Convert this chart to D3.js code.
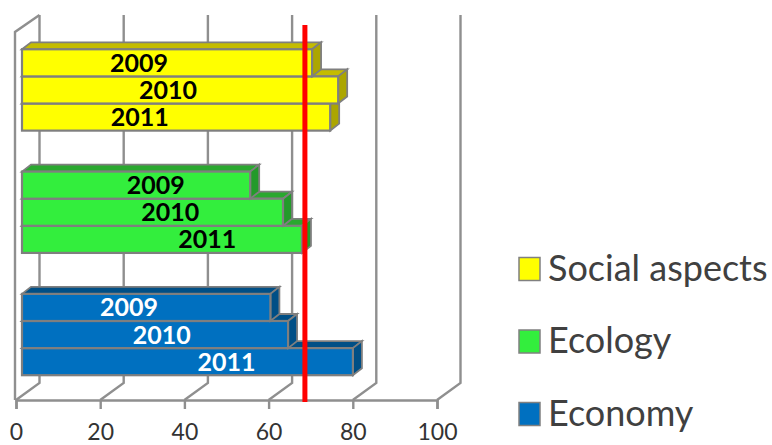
<!DOCTYPE html>
<html>
<head>
<meta charset="utf-8">
<script src="https://cdn.jsdelivr.net/npm/d3@7/dist/d3.min.js"></script>
<style>
  html, body { margin: 0; padding: 0; background: #fff; }
  svg { display: block; font-family: Lato, "Open Sans", sans-serif; }
</style>
</head>
<body>
<svg id="chart" width="772" height="445"></svg>
<script>
// Survey scores per pillar and year
const pillars = ["Social aspects", "Ecology", "Economy"];
const years = ["2009", "2010", "2011"];
const socialValues = [68.9, 75.1, 73.2];
const ecologyValues = [54.2, 62.0, 66.5];
const economyValues = [59.0, 63.2, 78.6];
const axisTicks = [0, 20, 40, 60, 80, 100];
const targetValue = 67.2;

// Year label anchors along the value axis, per pillar
const socialLabelAt = [27.8, 34.7, 28.0];
const ecologyLabelAt = [31.8, 35.2, 44.0];
const economyLabelAt = [25.4, 33.2, 48.6];

const seriesByPillar = {
  "Social aspects": { values: socialValues, labelAt: socialLabelAt, front: "#ffff00", top: "#c4bc00", side: "#aca600", text: "#000" },
  "Ecology": { values: ecologyValues, labelAt: ecologyLabelAt, front: "#33ee3d", top: "#2aa82f", side: "#239a2a", text: "#000" },
  "Economy": { values: economyValues, labelAt: economyLabelAt, front: "#0070c0", top: "#004f86", side: "#004f86", text: "#fff" }
};

const svg = d3.select("#chart");
const GRID = "#8f8f8f", EDGE = "#7f7f7f";

// Projection of the oblique box
const floorY = 400, wallTop = 15;
const wallDx = 23.5, wallDy = 17;
const barInset = 6, barDx = 9, barDy = 7;

const x = d3.scaleLinear().domain([0, 100]).range([16, 437]);
const yGroup = d3.scaleBand().domain(pillars).range([28.5, 396]).paddingInner(0.335).paddingOuter(0.17);
const yYear = d3.scaleBand().domain(years).range([0, yGroup.bandwidth()]);

// Back wall, side wall and floor
const frame = svg.append("g").attr("fill", "none").attr("stroke", GRID).attr("stroke-width", 2.4);
axisTicks.forEach(t => {
  frame.append("path").attr("d", d3.line()([
    [x(t), floorY], [x(t) + wallDx, floorY - wallDy], [x(t) + wallDx, wallTop]
  ]));
});
frame.append("path").attr("d", d3.line()([
  [x(0) + wallDx, wallTop], [x(0) - 1, wallTop + wallDy], [x(0) - 1, floorY]
]));

// Value axis along the front edge of the floor
const axis = svg.append("g")
  .attr("transform", `translate(0,${floorY})`)
  .call(d3.axisBottom(x).tickValues(axisTicks).tickSize(9).tickPadding(15).tickFormat(d3.format("d")));
axis.select(".domain").attr("stroke", GRID).attr("stroke-width", 2.4);
axis.selectAll(".tick line").attr("stroke", GRID).attr("stroke-width", 2.4);
axis.selectAll(".tick text").attr("fill", "#333").attr("font-size", 23).attr("font-family", "Lato, sans-serif");

// Bars: the lower bar of each cluster goes down first so upper bars sit over its top face
pillars.forEach(p => {
  const s = seriesByPillar[p];
  const g = svg.append("g");
  years.slice().reverse().forEach(year => {
    const i = years.indexOf(year);
    const x0 = x(0) + barInset;
    const x1 = x0 + (x(s.values[i]) - x(0));
    const y0 = yGroup(p) + yYear(year);
    const y1 = y0 + yYear.bandwidth();
    const line = d3.line();
    g.append("path").attr("d", line([[x0, y0], [x0 + barDx, y0 - barDy], [x1 + barDx, y0 - barDy], [x1, y0]]) + "Z")
      .attr("fill", s.top).attr("stroke", EDGE).attr("stroke-width", 1.8);
    g.append("path").attr("d", line([[x1, y0], [x1 + barDx, y0 - barDy], [x1 + barDx, y1 - barDy], [x1, y1]]) + "Z")
      .attr("fill", s.side).attr("stroke", EDGE).attr("stroke-width", 1.8);
    g.append("rect").attr("x", x0).attr("y", y0).attr("width", x1 - x0).attr("height", y1 - y0)
      .attr("fill", s.front).attr("stroke", EDGE).attr("stroke-width", 2.2);
  });
  years.forEach((year, i) => {
    g.append("text")
      .attr("x", x(0) + barInset + x(s.labelAt[i]) - x(0))
      .attr("y", yGroup(p) + yYear(year) + yYear.bandwidth() / 2)
      .attr("dy", "0.36em")
      .attr("text-anchor", "middle")
      .attr("font-size", 25).attr("font-weight", 700)
      .attr("fill", s.text)
      .text(year);
  });
});

// Target marker
svg.append("line")
  .attr("x1", x(0) + barInset + x(targetValue) - x(0)).attr("x2", x(0) + barInset + x(targetValue) - x(0))
  .attr("y1", 25).attr("y2", 402)
  .attr("stroke", "#ff0000").attr("stroke-width", 5);

// Legend
const legendY = d3.scalePoint().domain(pillars).range([269, 414]);
const legend = svg.append("g");
pillars.forEach(p => {
  legend.append("rect")
    .attr("x", 519).attr("y", legendY(p) - 11.5).attr("width", 21).attr("height", 23)
    .attr("fill", seriesByPillar[p].front).attr("stroke", "#808080").attr("stroke-width", 1.5);
  legend.append("text")
    .attr("x", 548).attr("y", legendY(p))
    .attr("dy", "0.33em")
    .attr("font-size", 36).attr("fill", "#404040")
    .text(p);
});
</script>
</body>
</html>
